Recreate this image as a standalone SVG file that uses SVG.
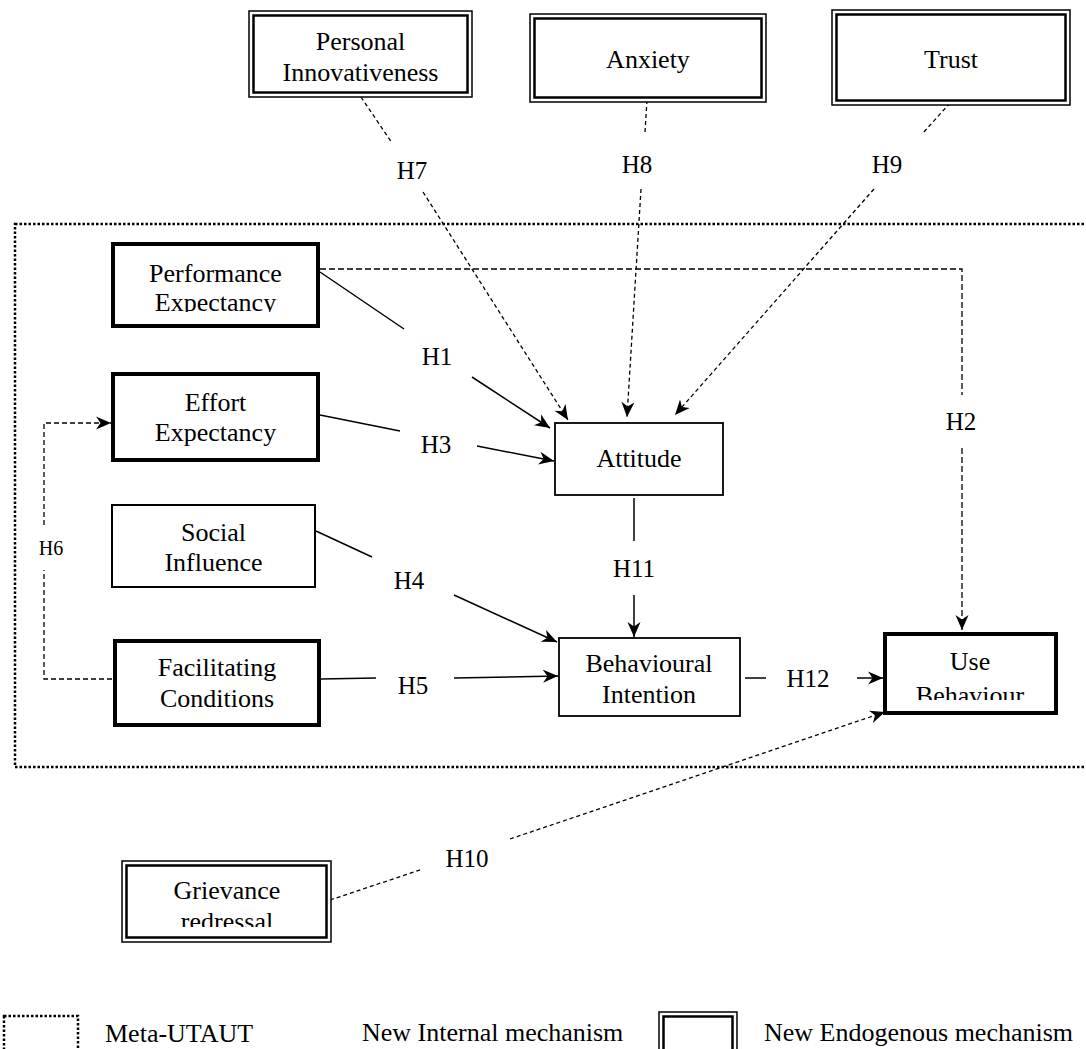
<svg xmlns="http://www.w3.org/2000/svg" width="1086" height="1049" viewBox="0 0 1086 1049">
<style>
text{font-family:"Liberation Serif","Times New Roman",serif;fill:#000;text-anchor:middle}
.t{font-size:26px}
.h{font-size:25px}
.box{fill:#fff;stroke:#000}
.dbo{fill:#fff;stroke:#000;stroke-width:1.5}
.dbi{fill:none;stroke:#000;stroke-width:2.5}
.thick{stroke-width:4}
.thin{stroke-width:1.8}
.sol{fill:none;stroke:#000;stroke-width:1.5}
.dash{fill:none;stroke:#000;stroke-width:1.3;stroke-dasharray:4 3}
.dot{fill:none;stroke:#000;stroke-width:2.5;stroke-dasharray:2.5 2}
</style>
<defs>
<marker id="ah" markerUnits="userSpaceOnUse" markerWidth="16" markerHeight="14" refX="15" refY="7" orient="auto">
<path d="M0,0.5 L15,7 L0,13.5 L4.5,7 z" fill="#000"/>
</marker>
<clipPath id="cPE"><rect x="100" y="230" width="230" height="82"/></clipPath>
<clipPath id="cUB"><rect x="870" y="620" width="200" height="80"/></clipPath>
<clipPath id="cGR"><rect x="110" y="850" width="230" height="77"/></clipPath>
</defs>

<rect id="meta-utaut-frame" class="dot" x="15" y="224" width="1100" height="543"/>

<g id="connectors">
<line class="dash" x1="361" y1="97" x2="392" y2="143"/>
<line class="dash" x1="423" y1="192" x2="568" y2="420" marker-end="url(#ah)"/>
<text class="h" x="412" y="179">H7</text>
<line class="dash" x1="647" y1="100" x2="645" y2="132"/>
<line class="dash" x1="641" y1="189" x2="627" y2="417" marker-end="url(#ah)"/>
<text class="h" x="637" y="173">H8</text>
<line class="dash" x1="950" y1="103" x2="923" y2="133"/>
<line class="dash" x1="874" y1="189" x2="675" y2="415" marker-end="url(#ah)"/>
<text class="h" x="887" y="173">H9</text>
<line class="sol" x1="320" y1="272" x2="404" y2="329"/>
<line class="sol" x1="472" y1="377" x2="550" y2="428" marker-end="url(#ah)"/>
<text class="h" x="437" y="365">H1</text>
<line class="sol" x1="320" y1="415" x2="400" y2="431"/>
<line class="sol" x1="477" y1="446" x2="554" y2="461" marker-end="url(#ah)"/>
<text class="h" x="436" y="453">H3</text>
<line class="sol" x1="316" y1="531" x2="372" y2="557"/>
<line class="sol" x1="454" y1="595" x2="557" y2="642" marker-end="url(#ah)"/>
<text class="h" x="409" y="589">H4</text>
<line class="sol" x1="321" y1="679" x2="376" y2="678" stroke-width="2"/>
<line class="sol" x1="454" y1="678" x2="558" y2="676" stroke-width="2" marker-end="url(#ah)"/>
<text class="h" x="413" y="694">H5</text>
<line class="sol" x1="634" y1="498" x2="634" y2="541"/>
<line class="sol" x1="634" y1="595" x2="634" y2="637" marker-end="url(#ah)"/>
<text class="h" x="634" y="577">H11</text>
<line class="sol" x1="745" y1="678" x2="766" y2="678"/>
<line class="sol" x1="857" y1="678" x2="883" y2="678" marker-end="url(#ah)"/>
<text class="h" x="808" y="687">H12</text>
<path class="dash" style="stroke-dasharray:6 3" d="M320,269 H962 V395"/>
<path class="dash" style="stroke-dasharray:6 3" d="M962,448 V630" marker-end="url(#ah)"/>
<text class="h" x="961" y="430">H2</text>
<path class="dash" style="stroke-dasharray:5 3" d="M112,679 H44 V570"/>
<path class="dash" style="stroke-dasharray:5 3" d="M44,525 V423 H111" marker-end="url(#ah)"/>
<text x="51" y="555" style="font-size:20px">H6</text>
<line class="dash" x1="330" y1="900" x2="423" y2="869"/>
<line class="dash" x1="510" y1="839" x2="885" y2="712" marker-end="url(#ah)"/>
<text class="h" x="467" y="867">H10</text>
</g>

<g id="personal-innovativeness">
<rect class="dbo" x="249" y="11" width="223" height="86"/>
<rect class="dbi" x="253.5" y="15.5" width="214" height="77"/>
<text class="t" x="360.5" y="50">Personal</text>
<text class="t" x="360.5" y="81">Innovativeness</text>
</g>
<g id="anxiety">
<rect class="dbo" x="530" y="14" width="236" height="88"/>
<rect class="dbi" x="534.5" y="18.5" width="227" height="79"/>
<text class="t" x="648" y="68">Anxiety</text>
</g>
<g id="trust">
<rect class="dbo" x="832" y="10" width="238" height="95"/>
<rect class="dbi" x="836.5" y="14.5" width="229" height="86"/>
<text class="t" x="951" y="68">Trust</text>
</g>

<g id="performance-expectancy">
<rect class="box thick" x="113" y="244" width="205" height="82"/>
<g clip-path="url(#cPE)">
<text class="t" x="215.5" y="282">Performance</text>
<text class="t" x="215.5" y="311">Expectancy</text>
</g>
</g>
<g id="effort-expectancy">
<rect class="box thick" x="113" y="374" width="205" height="86"/>
<text class="t" x="215.5" y="411">Effort</text>
<text class="t" x="215.5" y="441">Expectancy</text>
</g>
<g id="social-influence">
<rect class="box" stroke-width="2" x="112" y="505" width="203" height="82"/>
<text class="t" x="213.5" y="541">Social</text>
<text class="t" x="213.5" y="571">Influence</text>
</g>
<g id="facilitating-conditions">
<rect class="box thick" x="115" y="641" width="204" height="84"/>
<text class="t" x="217" y="676">Facilitating</text>
<text class="t" x="217" y="707">Conditions</text>
</g>
<g id="attitude">
<rect class="box thin" x="555" y="423" width="168" height="72"/>
<text class="t" x="639" y="467">Attitude</text>
</g>
<g id="behavioural-intention">
<rect class="box thin" x="559" y="638" width="181" height="78"/>
<text class="t" x="649" y="672">Behavioural</text>
<text class="t" x="649" y="703">Intention</text>
</g>
<g id="use-behaviour">
<rect class="box thick" x="885" y="634" width="171" height="79"/>
<g clip-path="url(#cUB)">
<text class="t" x="970" y="670">Use</text>
<text class="t" x="970" y="704">Behaviour</text>
</g>
</g>
<g id="grievance-redressal">
<rect class="dbo" x="122" y="861" width="209" height="81"/>
<rect class="dbi" x="126.5" y="865.5" width="200" height="72"/>
<g clip-path="url(#cGR)">
<text class="t" x="227" y="899">Grievance</text>
<text class="t" x="227" y="930">redressal</text>
</g>
</g>

<g id="legend">
<rect class="dot" x="4" y="1016" width="74" height="60"/>
<text class="t" x="105" y="1042" style="text-anchor:start">Meta-UTAUT</text>
<text class="t" x="362" y="1041" style="text-anchor:start">New Internal mechanism</text>
<rect class="dbo" x="659" y="1012" width="78" height="60"/>
<rect class="dbi" x="663.5" y="1016.5" width="69" height="60"/>
<text class="t" x="764" y="1041" style="text-anchor:start">New Endogenous mechanism</text>
</g>
</svg>
